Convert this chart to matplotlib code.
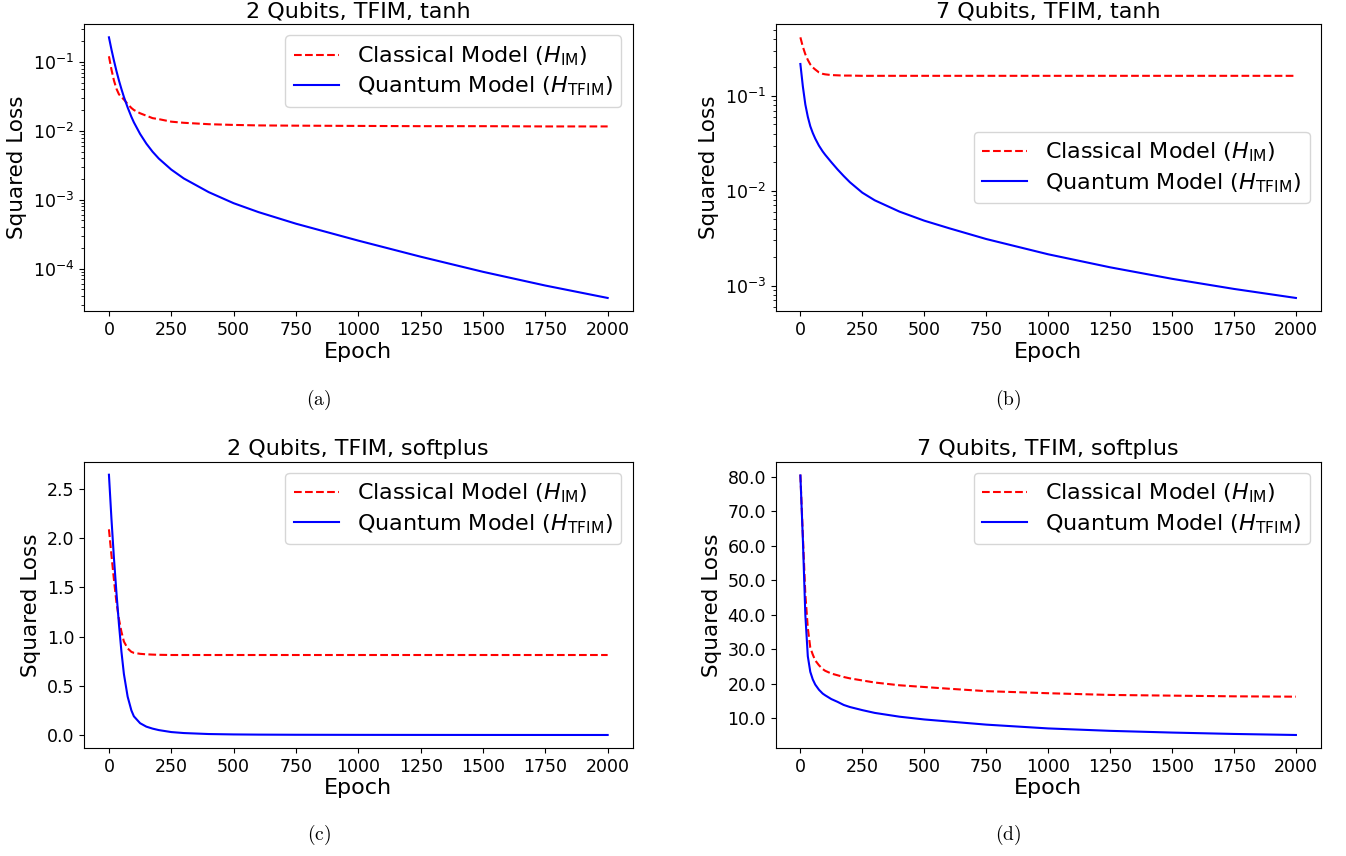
import numpy as np
import matplotlib
matplotlib.use('Agg')
import matplotlib.pyplot as plt
from matplotlib.ticker import FormatStrFormatter, MultipleLocator

# Epocas en las que se leen los valores de las curvas
epocas = [0, 10, 20, 30, 40, 50, 60, 75, 90, 100, 125, 150, 175, 200, 250,
          300, 400, 500, 600, 750, 1000, 1250, 1500, 1750, 2000]

# (a) 2 qubits, tanh
clasico_2_tanh = [0.121, 0.078, 0.054, 0.041, 0.034, 0.031, 0.0285, 0.0245, 0.0215, 0.0201,
                  0.018, 0.0166, 0.0153, 0.0148, 0.0136, 0.0131, 0.0125, 0.0122, 0.012,
                  0.0119, 0.0118, 0.0117, 0.0117, 0.0116, 0.0116]
cuantico_2_tanh = [0.228, 0.1524, 0.105, 0.0743, 0.0541, 0.0406, 0.0311, 0.0219, 0.016, 0.0133,
                   0.00902, 0.00653, 0.00498, 0.00396, 0.00274, 0.00204, 0.00129, 0.000891,
                   0.000661, 0.000449, 0.000255, 0.000149, 0.0000899, 0.0000568, 0.0000375]

# (b) 7 qubits, tanh
clasico_7_tanh = [0.415, 0.33, 0.275, 0.24, 0.215, 0.2, 0.19, 0.177, 0.171, 0.169,
                  0.166, 0.165, 0.164, 0.164, 0.163, 0.163, 0.163, 0.163, 0.163,
                  0.163, 0.163, 0.163, 0.163, 0.163, 0.163]
cuantico_7_tanh = [0.2173, 0.1259, 0.0813, 0.0603, 0.0479, 0.0407, 0.0355, 0.0299, 0.026, 0.024,
                   0.02, 0.0168, 0.0143, 0.0123, 0.00955, 0.00794, 0.00603, 0.00484, 0.00403,
                   0.0031, 0.00214, 0.00156, 0.00118, 0.000923, 0.000741]

# (c) 2 qubits, softplus
clasico_2_soft = [2.09, 1.83, 1.58, 1.35, 1.18, 1.05, 0.95, 0.88, 0.845, 0.835,
                  0.825, 0.82, 0.817, 0.815, 0.813, 0.813, 0.813, 0.813, 0.813,
                  0.813, 0.813, 0.813, 0.813, 0.813, 0.813]
cuantico_2_soft = [2.645, 2.2, 1.8, 1.45, 1.13, 0.85, 0.62, 0.39, 0.25, 0.19,
                   0.12, 0.085, 0.065, 0.05, 0.03, 0.02, 0.01, 0.006, 0.004,
                   0.0025, 0.0015, 0.001, 0.0007, 0.0005, 0.0003]

# (d) 7 qubits, softplus
clasico_7_soft = [80.6, 63, 46, 36.2, 30.5, 28.5, 26.8, 25.4, 24.3, 23.8,
                  23.0, 22.5, 22.0, 21.6, 21.0, 20.4, 19.6, 19.1, 18.6,
                  17.9, 17.3, 16.8, 16.6, 16.4, 16.3]
cuantico_7_soft = [80.4, 62, 40, 28, 23.5, 21.3, 19.8, 18.3, 17.2, 16.7,
                   15.6, 14.8, 13.9, 13.3, 12.4, 11.6, 10.5, 9.7, 9.1,
                   8.2, 7.1, 6.4, 5.9, 5.5, 5.2]

titulos = ['2 Qubits, TFIM, tanh', '7 Qubits, TFIM, tanh',
           '2 Qubits, TFIM, softplus', '7 Qubits, TFIM, softplus']
etiquetas = ['a', 'b', 'c', 'd']

W, H = 1346, 856

def rect(izq, der, arriba, abajo):
    # Convierte pixeles a fracciones de la figura
    return [izq / W, 1 - abajo / H, (der - izq) / W, (abajo - arriba) / H]

fig = plt.figure(figsize=(W / 100, H / 100), dpi=100)

paneles = [
    (rect(84, 632.6, 24.3, 311), clasico_2_tanh, cuantico_2_tanh, 'log', 'upper right'),
    (rect(775.6, 1320.7, 24.3, 311), clasico_7_tanh, cuantico_7_tanh, 'log', 'center right'),
    (rect(84, 632.6, 461.7, 748), clasico_2_soft, cuantico_2_soft, 'linear', 'upper right'),
    (rect(775.6, 1320.7, 461.7, 748), clasico_7_soft, cuantico_7_soft, 'linear', 'upper right'),
]

centros_etiqueta = [(319, 400), (1008, 400), (319, 835), (1008, 835)]

for i, (r, clasico, cuantico, escala, loc) in enumerate(paneles):
    ax = fig.add_axes(r)
    ax.plot(epocas, clasico, 'r--', lw=1.5, label=r'Classical Model ($H_{\mathrm{IM}}$)')
    ax.plot(epocas, cuantico, 'b-', lw=1.5, label=r'Quantum Model ($H_{\mathrm{TFIM}}$)')
    ax.set_yscale(escala)
    if i == 3:
        ax.yaxis.set_major_locator(MultipleLocator(10))
        ax.yaxis.set_major_formatter(FormatStrFormatter('%.1f'))
    ax.set_xticks([0, 250, 500, 750, 1000, 1250, 1500, 1750, 2000])
    ax.set_title(titulos[i], fontsize=16, pad=5)
    ax.set_xlabel('Epoch', fontsize=16, labelpad=2)
    ax.set_ylabel('Squared Loss', fontsize=15.5)
    ax.tick_params(labelsize=12.5)
    ax.legend(loc=loc, fontsize=16, labelspacing=0.3)
    cx, cy = centros_etiqueta[i]
    fig.text(cx / W, 1 - cy / H, r'$(\mathrm{' + etiquetas[i] + r'})$',
             math_fontfamily='cm', fontsize=14, ha='center', va='center')

plt.savefig('out.png', dpi=100)
